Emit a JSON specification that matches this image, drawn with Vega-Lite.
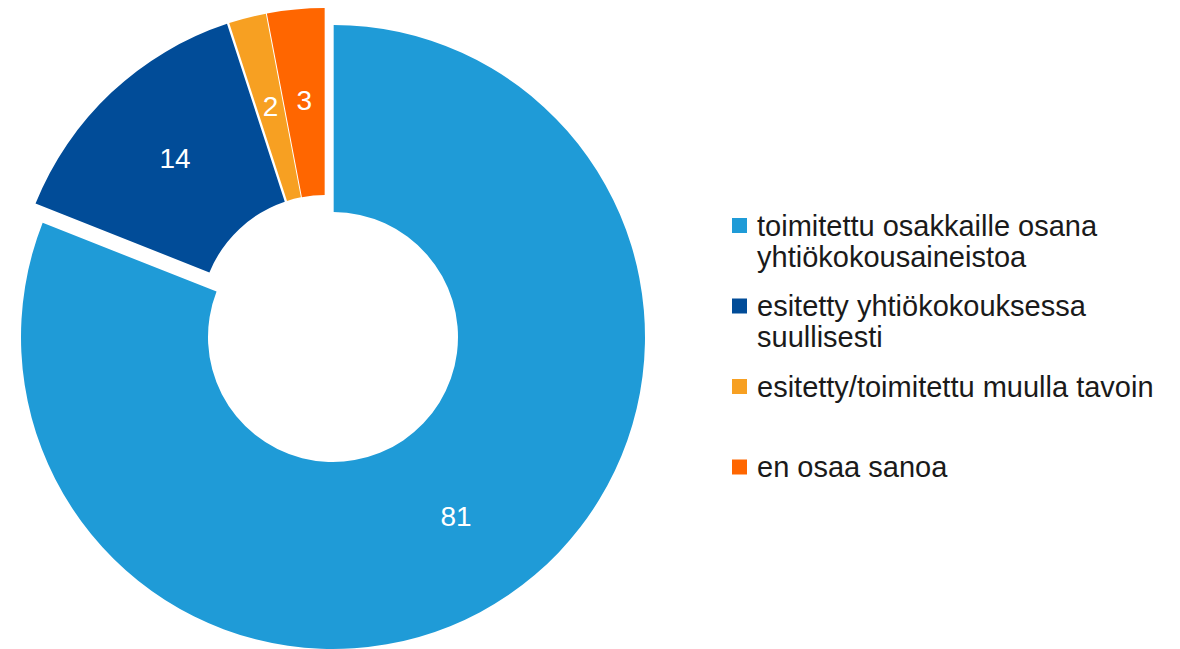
{
  "$schema": "https://vega.github.io/schema/vega-lite/v6.json",
  "width": 666,
  "height": 674,
  "autosize": {"type": "pad"},
  "padding": 0,
  "background": "white",
  "config": {"view": {"stroke": null}, "font": "Liberation Sans"},
  "data": {"values": [
    {"category": "toimitettu osakkaille osana yhtiökokousaineistoa", "value": 81, "rank": 1},
    {"category": "esitetty yhtiökokouksessa suullisesti", "value": 14, "rank": 2},
    {"category": "esitetty/toimitettu muulla tavoin", "value": 2, "rank": 3},
    {"category": "en osaa sanoa", "value": 3, "rank": 4}
  ]},
  "encoding": {
    "theta": {"field": "value", "type": "quantitative", "stack": true},
    "order": {"field": "rank", "type": "quantitative"}
  },
  "layer": [
    {
      "mark": {"type": "arc", "outerRadius": 312, "innerRadius": 125,
        "xOffset": {"expr": "datum.rank == 1 ? 0 : -8"},
        "yOffset": {"expr": "datum.rank == 1 ? 0 : -17"},
        "padAngle": {"expr": "datum.rank == 1 ? 0.004 : datum.rank == 2 ? 0.01 : datum.rank == 3 ? 0.004 : 0.002"}},
      "encoding": {
        "color": {
          "field": "category", "type": "nominal",
          "scale": {
            "domain": ["toimitettu osakkaille osana yhtiökokousaineistoa", "esitetty yhtiökokouksessa suullisesti", "esitetty/toimitettu muulla tavoin", "en osaa sanoa"],
            "range": ["#1F9BD7", "#014C98", "#F7A022", "#FF6600"]
          },
          "legend": {
            "orient": "none", "legendX": 725, "legendY": 211,
            "title": null, "symbolType": "square", "symbolSize": 225, "symbolStrokeWidth": 0,
            "labelFontSize": 29, "labelFont": "Liberation Sans", "labelColor": "#1a1a1a",
            "labelLimit": 0, "labelOffset": 3, "rowPadding": 18.5, "gridAlign": "all", "labelBaseline": "top",
            "labelExpr": "datum.label == 'toimitettu osakkaille osana yhtiökokousaineistoa' ? ['toimitettu osakkaille osana', 'yhtiökokousaineistoa'] : datum.label == 'esitetty yhtiökokouksessa suullisesti' ? ['esitetty yhtiökokouksessa', 'suullisesti'] : datum.label",
            "encoding": {"labels": {"lineHeight": {"value": 31}, "dy": {"value": -13}}}
          }
        }
      }
    },
    {
      "mark": {"type": "text", "radius": 219, "fill": "white", "fontSize": 28, "font": "Liberation Sans",
        "xOffset": {"expr": "datum.rank == 1 ? 0 : -8"},
        "yOffset": {"expr": "datum.rank == 1 ? 0 : -17"}},
      "encoding": {
        "detail": {"field": "category", "type": "nominal"},
        "text": {"field": "value", "type": "quantitative"}
      }
    }
  ]
}
